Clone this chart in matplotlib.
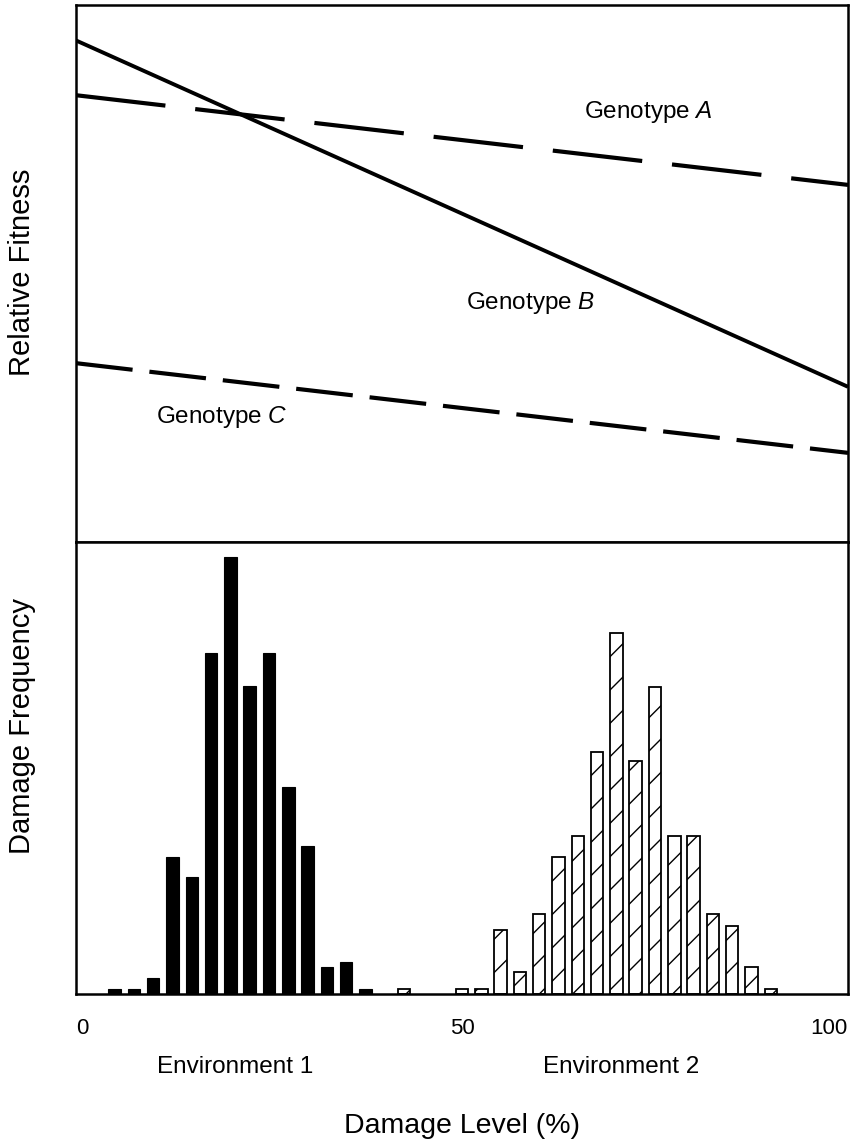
import matplotlib
matplotlib.use("Agg")
import matplotlib.pyplot as plt
import matplotlib.transforms as mtransforms

plt.rcParams['font.family'] = ['Liberation Sans', 'DejaVu Sans']
plt.rcParams['mathtext.fontset'] = 'custom'
plt.rcParams['mathtext.rm'] = 'Liberation Sans'
plt.rcParams['mathtext.it'] = 'Liberation Sans:italic'
plt.rcParams['lines.scale_dashes'] = False
plt.rcParams['hatch.linewidth'] = 1.0

# top panel: relative fitness vs damage level (end points of each line)
damage_ends = [0, 100]
fitness_a = [83.2, 66.5]
fitness_b = [93.4, 28.9]
fitness_c = [33.3, 16.6]

# bottom panel: damage frequency histograms (bin centres, %)
env1_levels = [5, 7.5, 10, 12.5, 15, 17.5, 20, 22.5, 25, 27.5, 30, 32.5, 35, 37.5]
env1_freq = [1, 1, 3, 25, 21.3, 62, 79.5, 56, 62, 37.6, 27, 5, 5.8, 1]
env2_levels = [42.5, 50, 52.5, 55, 57.5, 60, 62.5, 65, 67.5, 70, 72.5, 75,
               77.5, 80, 82.5, 85, 87.5, 90]
env2_freq = [1, 1, 1, 11.6, 4, 14.5, 25, 28.8, 44, 65.6, 42.4, 55.8,
             28.8, 28.8, 14.5, 12.4, 4.9, 1]

xticks = [0, 50, 100]
env_labels = ['Environment 1', 'Environment 2']
env_label_x = [20.6, 70.6]

W, H = 861, 1146
fig = plt.figure(figsize=(W / 100, H / 100), dpi=100)

left = 76 / W
width = (848 - 76) / W
ax1 = fig.add_axes([left, 1 - 542 / H, width, 537 / H])
ax2 = fig.add_axes([left, 1 - 994 / H, width, 452 / H])

# fitness lines
ax1.plot(damage_ends, fitness_b, color='black', lw=2.8, solid_capstyle='butt')
ax1.plot(damage_ends, fitness_a, color='black', lw=3.0,
         linestyle=(0, (64.8, 21.6)), dash_capstyle='butt')
ax1.plot(damage_ends, fitness_c, color='black', lw=3.0,
         linestyle=(0, (41, 12.2)), dash_capstyle='butt')
ax1.set_xlim(0, 100)
ax1.set_ylim(0, 100)
ax1.set_xticks([])
ax1.set_yticks([])

tfs = 17.5
ax1.text(74.1, 80.1, 'Genotype $\\mathit{A}$', ha='center', va='center', fontsize=tfs)
ax1.text(58.9, 44.5, 'Genotype $\\mathit{B}$', ha='center', va='center', fontsize=tfs)
ax1.text(18.9, 23.3, 'Genotype $\\mathit{C}$', ha='center', va='center', fontsize=tfs)

# histograms
bw = 1.62
ax2.bar(env1_levels, env1_freq, width=bw, color='black', edgecolor='black', lw=0.8)
ax2.bar(env2_levels, env2_freq, width=bw, color='white', edgecolor='black',
        lw=1.3, hatch='/')
ax2.set_xlim(0, 100)
ax2.set_ylim(0, 82.2)
ax2.set_yticks([])
ax2.set_xticks(xticks)
ax2.set_xticklabels([str(t) for t in xticks], fontsize=16)
ax2.tick_params(axis='x', length=0, pad=17)
labs = ax2.get_xticklabels()
labs[0].set_ha('left')
labs[-1].set_ha('right')

for ax in (ax1, ax2):
    for sp in ax.spines.values():
        sp.set_linewidth(1.8)
        sp.set_color('black')

trans = mtransforms.blended_transform_factory(ax2.transData, fig.transFigure)
for lab, x in zip(env_labels, env_label_x):
    fig.text(x, 1 - 1067 / H, lab, transform=trans, ha='center', va='center',
             fontsize=17.5)

fig.text(462 / W, 1 - 1126 / H, 'Damage Level (%)', ha='center', va='center',
         fontsize=20.5)
fig.text(22 / W, 1 - 272 / H, 'Relative Fitness', rotation=90, ha='center',
         va='center', fontsize=21)
fig.text(22 / W, 1 - 726 / H, 'Damage Frequency', rotation=90, ha='center',
         va='center', fontsize=21)

fig.savefig('out.png', dpi=100)
